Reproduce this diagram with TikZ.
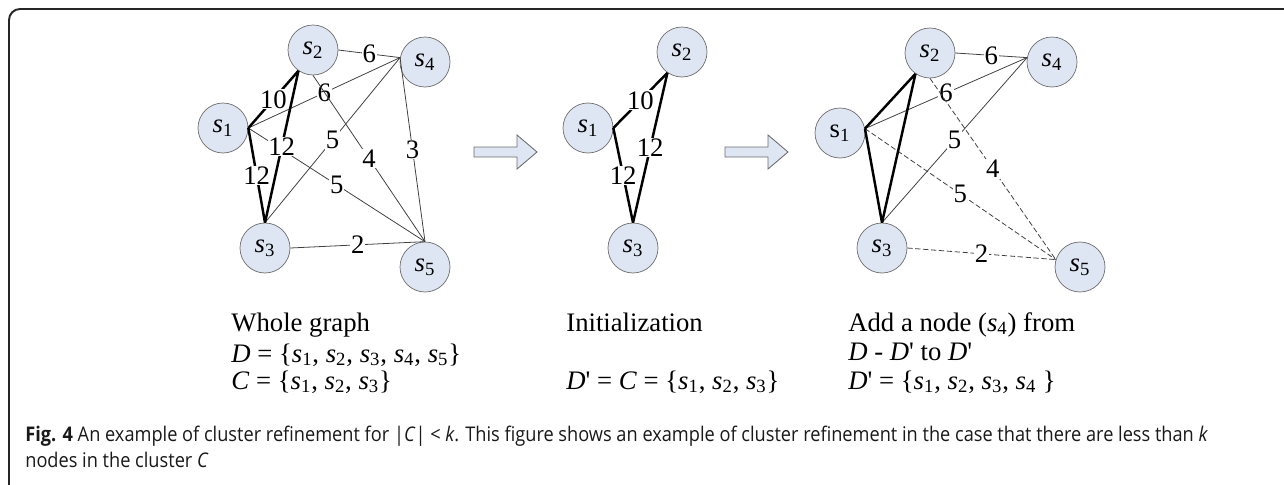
\documentclass[tikz,border=0pt]{standalone}
\usepackage{fontspec}
\setmainfont{Liberation Serif}
\newfontfamily\capfont[FakeStretch=0.9]{Open Sans}
\usetikzlibrary{positioning}

\definecolor{sitefill}{RGB}{221,230,242}
\definecolor{siteline}{RGB}{110,110,110}
\newcommand{\sv}[1]{\textit{s}\textsubscript{#1}}
\newcommand{\pr}{\textquotesingle}

\begin{document}
\begin{tikzpicture}[x=0.02cm,y=-0.02cm,font=\fontsize{15.2}{17}\selectfont]
    \tikzstyle{site}=[circle,draw=siteline,fill=sitefill,minimum size=1cm,inner sep=0pt]
    \tikzstyle{core}=[line width=1.4pt]
    \tikzstyle{link}=[draw=black!75,line width=0.45pt]
    \tikzstyle{weak}=[link,dash pattern=on 3pt off 1.5pt]
    \tikzstyle{wt}=[fill=white,inner sep=0.5pt,pos=0.5]
    \tikzstyle{note}=[anchor=base west,inner sep=0pt]
    \tikzstyle{capline}=[note,font=\capfont\fontsize{11.5}{13}\selectfont,text=gray!20!black]
    \tikzstyle{flowbox}=[draw=siteline,fill=sitefill,line width=0.5pt]
    \tikzset{flow/.pic={\draw[flowbox] (0,-5) -- (43,-5) -- (43,-17) -- (63,0) -- (43,17) -- (43,5) -- (0,5) -- cycle;}}

    \useasboundingbox (0,0) rectangle (1284,484);

    % Frame
    \draw[gray!30!black,line width=1.1pt,rounded corners=0.22cm] (9,490) -- (9,9) -- (1290,9);

    % Whole graph
    \node[site] (a1) at (223,128) {\sv1};
    \node[site] (a2) at (313,50) {\sv2};
    \node[site] (a3) at (265,248) {\sv3};
    \node[site] (a4) at (425,62) {\sv4};
    \node[site] (a5) at (425,267) {\sv5};

    \foreach \from/\to/\w in {a1.east/a4.170/6, a2.east/a4.170/6, a1.east/a5.north/5,
                              a2.south/a5.north/4, a3.north/a4.170/5, a4.170/a5.north/3,
                              a3.east/a5.north/2}
        \draw[link] (\from) -- node[wt] {\w} (\to);
    \draw[core] (a1.east) -- node[wt] {10} (a2.235);
    \draw[core] (a1.east) -- node[wt] {12} (a3.north);
    \draw[core] (a2.235) -- node[wt] {12} (a3.north);

    % Initialization
    \node[site] (b1) at (588,128) {\sv1};
    \node[site] (b2) at (682,52) {\sv2};
    \node[site] (b3) at (633,248) {\sv3};

    \draw[core] (b1.east) -- node[wt] {10} (b2.235);
    \draw[core] (b1.east) -- node[wt] {12} (b3.north);
    \draw[core] (b2.235) -- node[wt] {12} (b3.north);

    % Adding s4
    \node[site] (c1) at (840,133) {s\textsubscript{1}};
    \node[site] (c2) at (930,53) {\sv2};
    \node[site] (c3) at (882,248) {\sv3};
    \node[site] (c4) at (1052,62) {\sv4};
    \node[site] (c5) at (1080,267) {\sv5};

    \foreach \from/\to/\w in {c1.10/c4.170/6, c2.east/c4.170/6, c3.north/c4.170/5}
        \draw[link] (\from) -- node[wt] {\w} (\to);
    \foreach \from/\to/\w in {c1.10/c5.163/5, c2.south/c5.163/4, c3.east/c5.163/2}
        \draw[weak] (\from) -- node[wt] {\w} (\to);
    \draw[core] (c1.10) -- (c2.235);
    \draw[core] (c1.10) -- (c3.north);
    \draw[core] (c2.235) -- (c3.north);

    % Steps
    \pic at (474,152) {flow};
    \pic at (725,152) {flow};

    % Annotate the graphs
    \node[note] (whole) at (231,331) {Whole graph};
    \node[note] (dset) at (231,362) {\textit{D} = \{\sv1, \sv2, \sv3, \sv4, \sv5\}};
    \node[note] (cset) at (231,389) {\textit{C} = \{\sv1, \sv2, \sv3\}};
    \node[note] (init) at (566,331) {Initialization};
    \node[note] (dinit) at (566,389) {\textit{D}\pr{} = \textit{C} = \{\sv1, \sv2, \sv3\}};
    \node[note] (add) at (848,331) {Add a node (\sv4) from};
    \node[note] (diff) at (848,360) {\textit{D} - \textit{D}\pr{} to \textit{D}\pr};
    \node[note] (dadd) at (848,389) {\textit{D}\pr{} = \{\sv1, \sv2, \sv3, \sv4 \}};

    % Caption
    \node[capline] (cap1) at (25,441)
        {\textbf{Fig. 4} An example of cluster refinement for |\textit{C}| < \textit{k}. This figure shows an example of cluster refinement in the case that there are less than \textit{k}};
    \node[capline] (cap2) at (25,467) {nodes in the cluster \textit{C}};
\end{tikzpicture}
\end{document}
